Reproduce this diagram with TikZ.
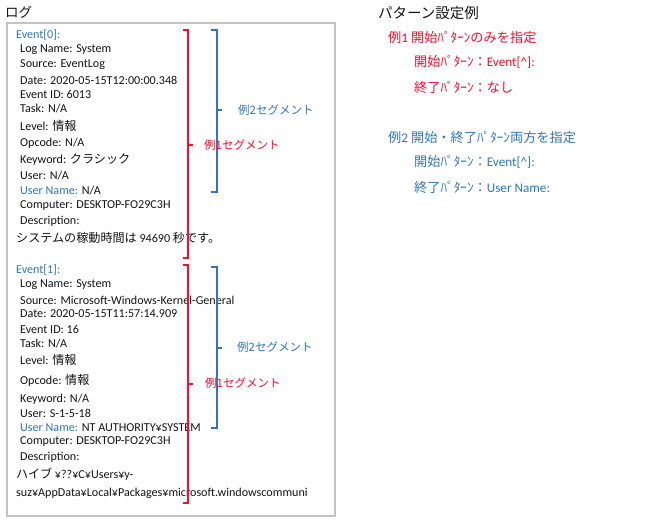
\documentclass[tikz,border=0pt]{standalone}
\usepackage{fontspec}
\setmainfont{Carlito}
\newfontfamily\jpfont{Noto Sans CJK JP}
\usepackage{tikz}
\usetikzlibrary{positioning}
\definecolor{evblue}{RGB}{46,117,196}
\definecolor{segred}{RGB}{255,10,40}
\definecolor{txtdark}{RGB}{20,20,20}
\definecolor{mgframe}{RGB}{195,195,195}
\tikzset{
  logline/.style={anchor=west, inner sep=0pt, text=txtdark,
    font=\fontsize{12.1}{13}\selectfont},
  keyline/.style={logline, text=evblue},
  seglabel/.style={anchor=west, inner sep=0pt,
    font=\jpfont\fontsize{11.5}{13}\selectfont},
  title/.style={anchor=west, inner sep=0pt, text=txtdark,
    font=\jpfont\fontsize{14.5}{16}\selectfont},
  patline/.style={anchor=west, inner sep=0pt,
    font=\fontsize{13.2}{15}\selectfont},
  redbracket/.style={draw=segred, line width=1.1pt},
  bluebracket/.style={draw=evblue, line width=1.1pt},
  frame/.style={draw=mgframe, line width=1.2pt}
}
\newcommand{\jp}[1]{{\jpfont #1}}
\begin{document}
\begin{tikzpicture}[x=1pt, y=-1pt]
  \useasboundingbox (0,0) rectangle (649,526);

  % log panel
  \node[title, font=\jpfont\fontsize{13.5}{15}\selectfont] (logtitle) at (5,12) {ログ};
  \draw[frame] (7,23) rectangle (335,516);

  % event 0
  \node[keyline] (ev0) at (16,35) {Event[0]:};
  \node[logline] (ev0name) at (20,50) {Log Name: System};
  \node[logline] (ev0src) at (20,65) {Source: EventLog};
  \node[logline] (ev0date) at (20,80) {Date: 2020-05-15T12:00:00.348};
  \node[logline] (ev0id) at (20,94) {Event ID: 6013};
  \node[logline] (ev0task) at (20,109) {Task: N/A};
  \node[logline] (ev0lvl) at (20,126) {Level: \jp{情報}};
  \node[logline] (ev0op) at (20,143) {Opcode: N/A};
  \node[logline] (ev0kw) at (20,160) {Keyword: \jp{クラシック}};
  \node[logline] (ev0user) at (20,176) {User: N/A};
  \node[logline] (ev0uname) at (20,191) {\textcolor{evblue}{User Name:} N/A};
  \node[logline] (ev0pc) at (20,206) {Computer: DESKTOP-FO29C3H};
  \node[logline] (ev0desc) at (20,221) {Description:};
  \node[logline] (ev0msg) at (16,238) {\jp{システムの稼動時間は} 94690 \jp{秒です。}};

  \draw[redbracket] (183,30) -- (188,30) -- (188,258) -- (183,258);
  \draw[redbracket] (188,145) -- (193,145);
  \draw[bluebracket] (211,30) -- (217,30) -- (217,192) -- (211,192);
  \draw[bluebracket] (217,110) -- (222,110);
  \node[seglabel, text=evblue] (ev0seg2) at (238,110) {例2セグメント};
  \node[seglabel, text=segred] (ev0seg1) at (204,145) {例1セグメント};

  % event 1
  \node[keyline] (ev1) at (16,270) {Event[1]:};
  \node[logline] (ev1name) at (20,285) {Log Name: System};
  \node[logline] (ev1src) at (20,300) {Source: Microsoft-Windows-Kernel-General};
  \node[logline] (ev1date) at (20,314) {Date: 2020-05-15T11:57:14.909};
  \node[logline] (ev1id) at (20,329) {Event ID: 16};
  \node[logline] (ev1task) at (20,344) {Task: N/A};
  \node[logline] (ev1lvl) at (20,360) {Level: \jp{情報}};
  \node[logline] (ev1op) at (20,380) {Opcode: \jp{情報}};
  \node[logline] (ev1kw) at (20,399) {Keyword: N/A};
  \node[logline] (ev1user) at (20,413) {User: S-1-5-18};
  \node[logline] (ev1uname) at (20,428) {\textcolor{evblue}{User Name:} NT AUTHORITY¥SYSTEM};
  \node[logline] (ev1pc) at (20,442) {Computer: DESKTOP-FO29C3H};
  \node[logline] (ev1desc) at (20,457) {Description:};
  \node[logline] (ev1msg) at (16,474) {\jp{ハイブ} ¥??¥C¥Users¥y-};
  \node[logline] (ev1msg2) at (16,493) {suz¥AppData¥Local¥Packages¥microsoft.windowscommuni};

  \draw[redbracket] (183,265) -- (188,265) -- (188,503) -- (183,503);
  \draw[redbracket] (188,384) -- (193,384);
  \draw[bluebracket] (211,267) -- (217,267) -- (217,428) -- (211,428);
  \draw[bluebracket] (217,348) -- (222,348);
  \node[seglabel, text=evblue] (ev1seg2) at (237,347) {例2セグメント};
  \node[seglabel, text=segred] (ev1seg1) at (205,383) {例1セグメント};

  % pattern examples
  \node[title] (pattitle) at (378,13) {パターン設定例};
  \node[patline, text=segred] (ex1) at (388,37) {\jp{例}1 \jp{開始ﾊﾟﾀｰﾝのみを指定}};
  \node[patline, text=segred] (ex1start) at (414,62) {\jp{開始ﾊﾟﾀｰﾝ：}Event[\^{}]:};
  \node[patline, text=segred] (ex1end) at (414,87) {\jp{終了ﾊﾟﾀｰﾝ：なし}};
  \node[patline, text=evblue] (ex2) at (388,137) {\jp{例}2 \jp{開始・終了ﾊﾟﾀｰﾝ両方を指定}};
  \node[patline, text=evblue] (ex2start) at (414,162) {\jp{開始ﾊﾟﾀｰﾝ：}Event[\^{}]:};
  \node[patline, text=evblue] (ex2end) at (414,187) {\jp{終了ﾊﾟﾀｰﾝ：}User Name:};
\end{tikzpicture}
\end{document}
